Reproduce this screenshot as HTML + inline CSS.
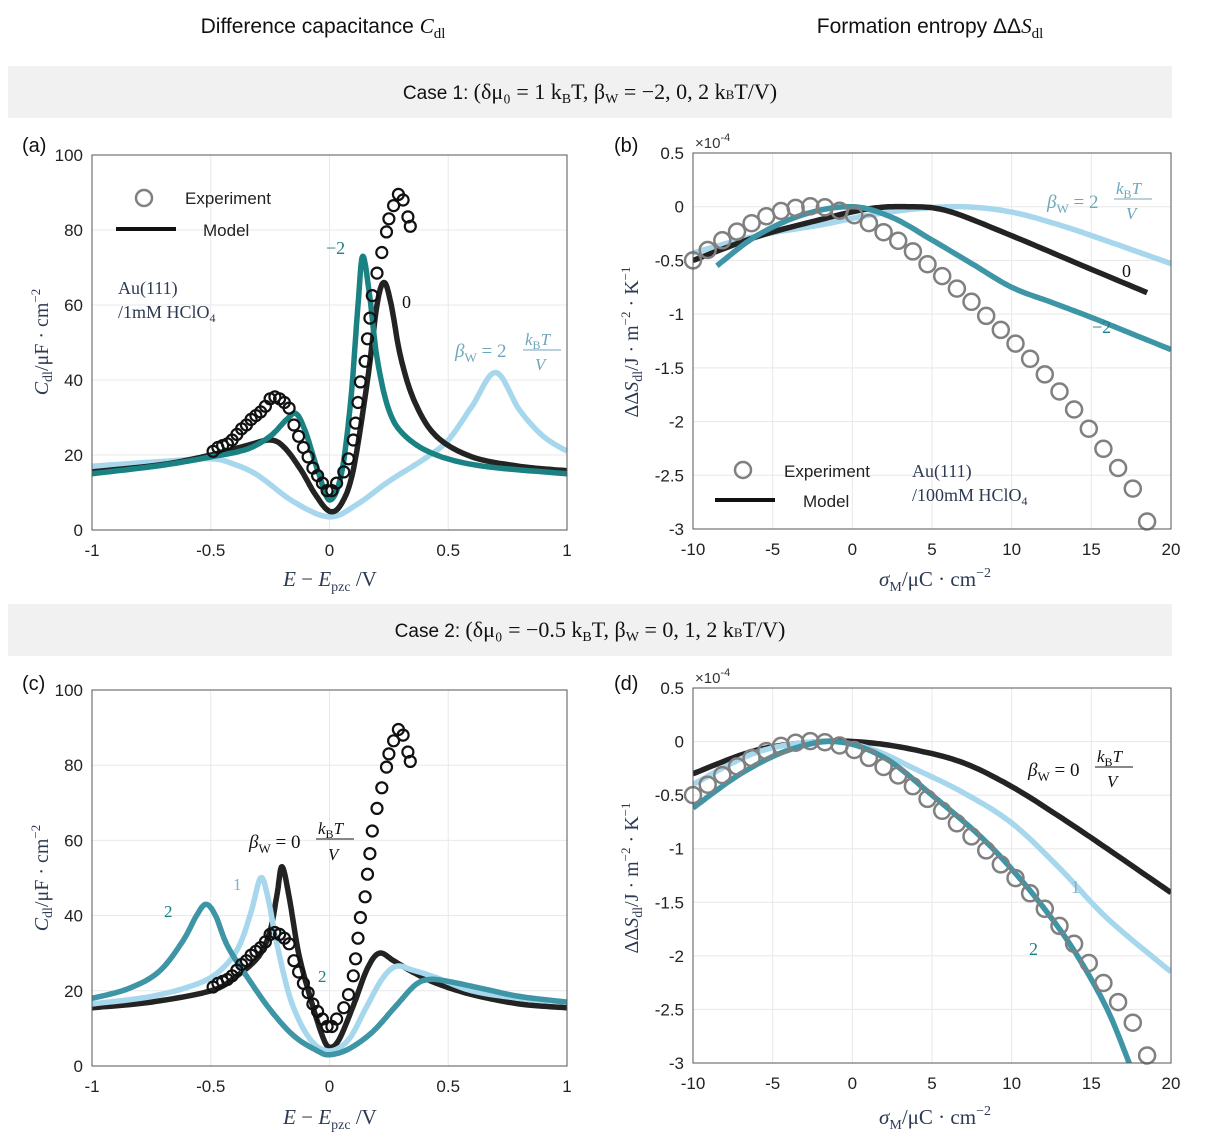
<!DOCTYPE html>
<html><head><meta charset="utf-8"><style>
html,body{margin:0;padding:0;background:#fff;}
svg{display:block;font-family:"Liberation Sans",sans-serif;}
.t{font-size:17px;fill:#222}
.tk{font-size:17px;fill:#222}
.m{font-family:"Liberation Serif",serif;}
</style></head><body>
<svg id="s" width="1230" height="1147" viewBox="0 0 1230 1147" xmlns="http://www.w3.org/2000/svg">
<rect x="8" y="66" width="1164" height="52" fill="#f1f1f1"/>
<rect x="8" y="604" width="1164" height="52" fill="#f1f1f1"/>
<text x="323" y="33" text-anchor="middle" font-size="21" fill="#111">Difference capacitance <tspan class="m" font-style="italic">C</tspan><tspan class="m" font-size="15" dy="5">dl</tspan></text>
<text x="930" y="33" text-anchor="middle" font-size="21" fill="#111">Formation entropy ΔΔ<tspan class="m" font-style="italic">S</tspan><tspan class="m" font-size="15" dy="5">dl</tspan></text>
<text x="590" y="99" text-anchor="middle" font-size="19" fill="#111">Case 1: <tspan class="m" font-size="22">(δμ₀ = 1 k</tspan><tspan class="m" font-size="14" dy="4">B</tspan><tspan class="m" font-size="22" dy="-4">T, β</tspan><tspan class="m" font-size="14" dy="4">W</tspan><tspan class="m" font-size="22" dy="-4"> = −2, 0, 2 k</tspan><tspan class="m" font-size="13">B</tspan><tspan class="m" font-size="22">T/V)</tspan></text>
<text x="590" y="637" text-anchor="middle" font-size="19" fill="#111">Case 2: <tspan class="m" font-size="22">(δμ₀ = −0.5 k</tspan><tspan class="m" font-size="14" dy="4">B</tspan><tspan class="m" font-size="22" dy="-4">T, β</tspan><tspan class="m" font-size="14" dy="4">W</tspan><tspan class="m" font-size="22" dy="-4"> = 0, 1, 2 k</tspan><tspan class="m" font-size="13">B</tspan><tspan class="m" font-size="22">T/V)</tspan></text>
<g id="g"></g>
</svg>
<script>
var G=document.getElementById('g'),out='';
function spline(pts,n){var r=[];for(var i=0;i<pts.length-1;i++){var p0=pts[Math.max(i-1,0)],p1=pts[i],p2=pts[i+1],p3=pts[Math.min(i+2,pts.length-1)];for(var k=0;k<n;k++){var t=k/n,t2=t*t,t3=t2*t;r.push([0.5*(2*p1[0]+(-p0[0]+p2[0])*t+(2*p0[0]-5*p1[0]+4*p2[0]-p3[0])*t2+(-p0[0]+3*p1[0]-3*p2[0]+p3[0])*t3),0.5*(2*p1[1]+(-p0[1]+p2[1])*t+(2*p0[1]-5*p1[1]+4*p2[1]-p3[1])*t2+(-p0[1]+3*p1[1]-3*p2[1]+p3[1])*t3)]);}}r.push(pts[pts.length-1]);return r;}
function panel(o){
 var X=function(v){return o.x0+(v-o.xa)/(o.xb-o.xa)*(o.x1-o.x0)},Y=function(v){return o.y1+(v-o.ya)/(o.yb-o.ya)*(o.y0-o.y1)};
 out+='<rect x="'+o.x0+'" y="'+o.y0+'" width="'+(o.x1-o.x0)+'" height="'+(o.y1-o.y0)+'" fill="#fff"/>';
 o.xt.forEach(function(v){var x=X(v);out+='<line x1="'+x+'" x2="'+x+'" y1="'+o.y0+'" y2="'+o.y1+'" stroke="#e8e8e8"/>';out+='<text class="tk" x="'+x+'" y="'+(o.y1+26)+'" text-anchor="middle">'+v+'</text>';});
 o.yt.forEach(function(v){var y=Y(v);out+='<line x1="'+o.x0+'" x2="'+o.x1+'" y1="'+y+'" y2="'+y+'" stroke="#e8e8e8"/>';out+='<text class="tk" x="'+(o.x0-9)+'" y="'+(y+6)+'" text-anchor="end">'+v+'</text>';});
 out+='<svg x="'+o.x0+'" y="'+o.y0+'" width="'+(o.x1-o.x0)+'" height="'+(o.y1-o.y0)+'" overflow="hidden"><g transform="translate('+(-o.x0)+','+(-o.y0)+')">';
 o.curves.forEach(function(c){var p=spline(c.p,12).map(function(q){return X(q[0]).toFixed(1)+','+Y(q[1]).toFixed(1)}).join(' ');out+='<polyline points="'+p+'" fill="none" stroke="'+c.c+'" stroke-width="'+(c.w||5.5)+'" stroke-linejoin="round"/>';});
 out+='</g></svg>';
 o.circ.forEach(function(q){out+='<circle cx="'+X(q[0]).toFixed(1)+'" cy="'+Y(q[1]).toFixed(1)+'" r="'+o.cr+'" fill="none" stroke="'+o.cc+'" stroke-width="'+o.cw+'"/>';});
 out+='<rect x="'+o.x0+'" y="'+o.y0+'" width="'+(o.x1-o.x0)+'" height="'+(o.y1-o.y0)+'" fill="none" stroke="#555" stroke-width="1"/>';
}
var BK='#232323',TL='#1a8282',TL2='#3d95a5',LB='#a6d7ec';
var expA=[[-0.49,21],[-0.47,22],[-0.45,22.5],[-0.43,23],[-0.41,24],[-0.39,25.5],[-0.37,27],[-0.35,28],[-0.33,29.5],[-0.31,30.5],[-0.29,31.5],[-0.27,33],[-0.25,35],[-0.23,35.5],[-0.21,35],[-0.19,34],[-0.17,32.5],[-0.15,28],[-0.13,25],[-0.11,22],[-0.09,19.5],[-0.07,16.5],[-0.05,14.5],[-0.03,12.5],[-0.01,10.5],[0.01,10.5],[0.03,12.5],[0.06,15.5],[0.08,19],[0.1,24],[0.11,28.5],[0.12,34],[0.13,39.5],[0.15,45],[0.16,51],[0.17,56.5],[0.18,62.5],[0.2,68.5],[0.22,74],[0.24,79.5],[0.25,83],[0.27,86.5],[0.29,89.5],[0.31,88],[0.33,83.5],[0.34,81]];
var sgm=[];(function(){var f=[[-10,-0.5],[-8,-0.3],[-6,-0.13],[-4.5,-0.04],[-3,0],[-2,0],[-1,-0.03],[0,-0.07],[1,-0.15],[2,-0.24],[3,-0.33],[4,-0.44],[5,-0.57],[6,-0.69],[7,-0.82],[8,-0.96],[9,-1.1],[10,-1.24],[11,-1.39],[12,-1.55],[13,-1.72],[14,-1.9],[15,-2.1],[16,-2.3],[17,-2.5],[18,-2.72],[18.5,-2.93]];var s=spline(f,30);for(var v=-10;v<=18.6;v+=0.92){var best=s[0];s.forEach(function(q){if(Math.abs(q[0]-v)<Math.abs(best[0]-v))best=q;});sgm.push([v,best[1]]);}sgm[sgm.length-1]=[18.5,-2.93];})();
panel({x0:92,x1:567,y0:155,y1:530,xa:-1,xb:1,ya:0,yb:100,xt:[-1,-0.5,0,0.5,1],yt:[0,20,40,60,80,100],cr:5.5,cc:'#111',cw:2.2,circ:expA,curves:[
 {c:LB,p:[[-1,17],[-0.7,18.3],[-0.5,19],[-0.4,17.5],[-0.3,14.5],[-0.15,7.5],[0,3.5],[0.12,7],[0.25,13],[0.4,19],[0.5,24],[0.6,33],[0.7,42],[0.8,32],[0.9,25],[1,21]]},
 {c:BK,p:[[-1,15.5],[-0.7,17.5],[-0.5,20],[-0.35,22.5],[-0.25,24],[-0.19,22],[-0.12,16],[-0.06,9.5],[0,5],[0.05,7],[0.1,16],[0.16,40],[0.2,60],[0.23,66],[0.26,60],[0.3,46],[0.36,34],[0.45,25],[0.6,19.5],[0.8,17],[1,15.8]]},
 {c:TL,p:[[-1,15],[-0.7,17.3],[-0.5,19.5],[-0.35,21.5],[-0.25,25],[-0.18,29.5],[-0.14,31],[-0.1,26],[-0.05,16],[0,8],[0.05,15],[0.09,35],[0.12,60],[0.14,73],[0.17,62],[0.2,46],[0.25,32],[0.32,25],[0.45,20],[0.65,17],[1,15]]}]});
panel({x0:693,x1:1171,y0:153,y1:529,xa:-10,xb:20,ya:-3,yb:0.5,xt:[-10,-5,0,5,10,15,20],yt:[-3,-2.5,-2,-1.5,-1,-0.5,0,0.5],cr:8,cc:'#808080',cw:2.5,circ:sgm,curves:[
 {c:LB,p:[[-10,-0.43],[-6,-0.27],[-2,-0.17],[1,-0.08],[4,-0.02],[7,0],[10,-0.05],[13,-0.17],[16,-0.32],[20,-0.53]]},
 {c:BK,p:[[-10,-0.5],[-6,-0.28],[-2,-0.12],[1,-0.02],[3.5,0],[6,-0.04],[10,-0.27],[14,-0.52],[18.5,-0.8]]},
 {c:TL2,p:[[-8.5,-0.55],[-6,-0.27],[-3,-0.07],[0,0],[2.5,-0.1],[5,-0.31],[7.5,-0.53],[10,-0.75],[12.5,-0.89],[15,-1.03],[17.5,-1.18],[20,-1.33]]}]});
panel({x0:92,x1:567,y0:690,y1:1066,xa:-1,xb:1,ya:0,yb:100,xt:[-1,-0.5,0,0.5,1],yt:[0,20,40,60,80,100],cr:5.5,cc:'#111',cw:2.2,circ:expA,curves:[
 {c:BK,p:[[-1,15.5],[-0.75,17],[-0.5,20],[-0.4,23.5],[-0.3,29],[-0.25,36],[-0.22,46],[-0.2,53],[-0.17,45],[-0.13,30],[-0.08,18],[-0.03,8],[0,5],[0.04,7],[0.1,16],[0.16,26],[0.21,30],[0.27,28],[0.35,25],[0.45,22],[0.6,19],[0.8,16.5],[1,15.5]]},
 {c:LB,p:[[-1,16.5],[-0.75,18.5],[-0.55,22],[-0.45,26],[-0.38,32],[-0.33,41],[-0.29,50],[-0.26,45],[-0.22,32],[-0.16,17],[-0.08,7],[0,4],[0.08,7],[0.15,15],[0.22,23],[0.28,26.5],[0.35,25.5],[0.45,23.5],[0.6,20],[0.8,18],[1,17]]},
 {c:TL2,p:[[-1,18],[-0.85,20.5],[-0.72,25],[-0.62,33],[-0.56,40],[-0.52,43],[-0.48,40],[-0.43,32],[-0.35,24],[-0.25,15],[-0.15,8],[-0.05,4],[0,3],[0.08,4.5],[0.18,9],[0.28,16],[0.36,21.5],[0.42,23],[0.5,22.5],[0.65,20.5],[0.8,18.5],[1,17]]}]});
panel({x0:693,x1:1171,y0:688,y1:1063,xa:-10,xb:20,ya:-3,yb:0.5,xt:[-10,-5,0,5,10,15,20],yt:[-3,-2.5,-2,-1.5,-1,-0.5,0,0.5],cr:8,cc:'#808080',cw:2.5,circ:sgm,curves:[
 {c:BK,p:[[-10,-0.3],[-6,-0.08],[-2,0],[1,-0.01],[4,-0.08],[7,-0.2],[10,-0.42],[13,-0.7],[16,-1.0],[20,-1.41]]},
 {c:LB,p:[[-10,-0.4],[-6,-0.1],[-2,0],[1,-0.06],[4,-0.26],[7,-0.48],[10,-0.76],[13,-1.18],[16,-1.65],[20,-2.15]]},
 {c:TL2,p:[[-10,-0.62],[-7,-0.3],[-4,-0.08],[-1,0],[2,-0.15],[5,-0.5],[8,-0.88],[10,-1.19],[12,-1.55],[14,-1.97],[16,-2.5],[17.5,-3.05]]}]});
out+='<circle cx="144" cy="198" r="8" fill="none" stroke="#808080" stroke-width="2.5"/><text class="t" x="185" y="204">Experiment</text>';
out+='<line x1="116" y1="229" x2="176" y2="229" stroke="#111" stroke-width="4"/><text class="t" x="203" y="236">Model</text>';
out+='<text class="m" x="118" y="294" font-size="18" fill="#2d3a52">Au(111)</text><text class="m" x="118" y="318" font-size="18" fill="#2d3a52">/1mM HClO<tspan font-size="12" dy="4">4</tspan></text>';
out+='<text class="m" x="326" y="254" font-size="18" fill="'+TL+'">−2</text><text class="m" x="402" y="308" font-size="18" fill="#111">0</text>';
out+='<text class="m" x="455" y="357" font-size="19" fill="#6fa6ba" font-style="italic">β<tspan font-size="13" dy="5" font-style="normal">W</tspan><tspan dy="-5" font-style="normal"> = 2</tspan></text><text class="m" x="525" y="345" font-size="17" fill="#6fa6ba" font-style="italic">k<tspan font-size="12" dy="4" font-style="normal">B</tspan><tspan dy="-4">T</tspan></text><line x1="523" x2="561" y1="350" y2="350" stroke="#6fa6ba"/><text class="m" x="535" y="370" font-size="17" fill="#6fa6ba" font-style="italic">V</text>';
out+='<text x="22" y="152" font-size="20" fill="#111">(a)</text><text x="614" y="152" font-size="20" fill="#111">(b)</text><text x="22" y="690" font-size="20" fill="#111">(c)</text><text x="614" y="690" font-size="20" fill="#111">(d)</text>';
out+='<text x="695" y="148" font-size="15" fill="#333">×10<tspan font-size="11" dy="-7">-4</tspan></text><text x="695" y="683" font-size="15" fill="#333">×10<tspan font-size="11" dy="-7">-4</tspan></text>';
function ylab(x,y,txt){out+='<text class="m" transform="translate('+x+','+y+') rotate(-90)" text-anchor="middle" font-size="20" fill="#2d3a52">'+txt+'</text>';}
ylab(48,342,'<tspan font-style="italic">C</tspan><tspan font-size="14" dy="4">dl</tspan><tspan dy="-4">/μF · cm</tspan><tspan font-size="13" dy="-8">−2</tspan>');
ylab(48,878,'<tspan font-style="italic">C</tspan><tspan font-size="14" dy="4">dl</tspan><tspan dy="-4">/μF · cm</tspan><tspan font-size="13" dy="-8">−2</tspan>');
ylab(638,342,'ΔΔ<tspan font-style="italic">S</tspan><tspan font-size="14" dy="4">dl</tspan><tspan dy="-4">/J · m</tspan><tspan font-size="13" dy="-8">−2</tspan><tspan dy="8"> · K</tspan><tspan font-size="13" dy="-8">−1</tspan>');
ylab(638,878,'ΔΔ<tspan font-style="italic">S</tspan><tspan font-size="14" dy="4">dl</tspan><tspan dy="-4">/J · m</tspan><tspan font-size="13" dy="-8">−2</tspan><tspan dy="8"> · K</tspan><tspan font-size="13" dy="-8">−1</tspan>');
function xl(x,y){out+='<text class="m" x="'+x+'" y="'+y+'" text-anchor="middle" font-size="21" fill="#2d3a52"><tspan font-style="italic">E</tspan> − <tspan font-style="italic">E</tspan><tspan font-size="14" dy="5">pzc</tspan><tspan dy="-5"> /V</tspan></text>';}
xl(330,586);xl(330,1124);
function sl(x,y){out+='<text class="m" x="'+x+'" y="'+y+'" text-anchor="middle" font-size="21" fill="#2d3a52"><tspan font-style="italic">σ</tspan><tspan font-size="14" dy="5">M</tspan><tspan dy="-5">/μC · cm</tspan><tspan font-size="14" dy="-9">−2</tspan></text>';}
sl(935,586);sl(935,1124);
out+='<circle cx="743" cy="470" r="8" fill="none" stroke="#808080" stroke-width="2.5"/><text class="t" x="784" y="477">Experiment</text>';
out+='<line x1="715" y1="500" x2="775" y2="500" stroke="#111" stroke-width="4"/><text class="t" x="803" y="507">Model</text>';
out+='<text class="m" x="912" y="477" font-size="18" fill="#2d3a52">Au(111)</text><text class="m" x="912" y="501" font-size="18" fill="#2d3a52">/100mM HClO<tspan font-size="12" dy="4">4</tspan></text>';
out+='<text class="m" x="1122" y="277" font-size="18" fill="#111">0</text><text class="m" x="1092" y="333" font-size="18" fill="'+TL+'">−2</text>';
out+='<text class="m" x="1047" y="208" font-size="19" fill="#6fa6ba" font-style="italic">β<tspan font-size="13" dy="5" font-style="normal">W</tspan><tspan dy="-5" font-style="normal"> = 2</tspan></text><text class="m" x="1116" y="194" font-size="17" fill="#6fa6ba" font-style="italic">k<tspan font-size="12" dy="4" font-style="normal">B</tspan><tspan dy="-4">T</tspan></text><line x1="1114" x2="1152" y1="199" y2="199" stroke="#6fa6ba"/><text class="m" x="1126" y="219" font-size="17" fill="#6fa6ba" font-style="italic">V</text>';
out+='<text class="m" x="249" y="848" font-size="19" fill="#111" font-style="italic">β<tspan font-size="13" dy="5" font-style="normal">W</tspan><tspan dy="-5" font-style="normal"> = 0</tspan></text><text class="m" x="318" y="834" font-size="17" fill="#111" font-style="italic">k<tspan font-size="12" dy="4" font-style="normal">B</tspan><tspan dy="-4">T</tspan></text><line x1="316" x2="354" y1="839" y2="839" stroke="#111"/><text class="m" x="328" y="860" font-size="17" fill="#111" font-style="italic">V</text>';
out+='<text class="m" x="233" y="890" font-size="17" fill="#7fb3c8">1</text><text class="m" x="164" y="917" font-size="17" fill="'+TL+'">2</text><text class="m" x="318" y="982" font-size="17" fill="'+TL+'">2</text>';
out+='<text class="m" x="1028" y="776" font-size="19" fill="#111" font-style="italic">β<tspan font-size="13" dy="5" font-style="normal">W</tspan><tspan dy="-5" font-style="normal"> = 0</tspan></text><text class="m" x="1097" y="762" font-size="17" fill="#111" font-style="italic">k<tspan font-size="12" dy="4" font-style="normal">B</tspan><tspan dy="-4">T</tspan></text><line x1="1095" x2="1133" y1="767" y2="767" stroke="#111"/><text class="m" x="1107" y="787" font-size="17" fill="#111" font-style="italic">V</text>';
out+='<text class="m" x="1071" y="893" font-size="18" fill="#7fb3c8">1</text><text class="m" x="1029" y="955" font-size="18" fill="'+TL+'">2</text>';
G.innerHTML=out;
</script>
</body></html>
